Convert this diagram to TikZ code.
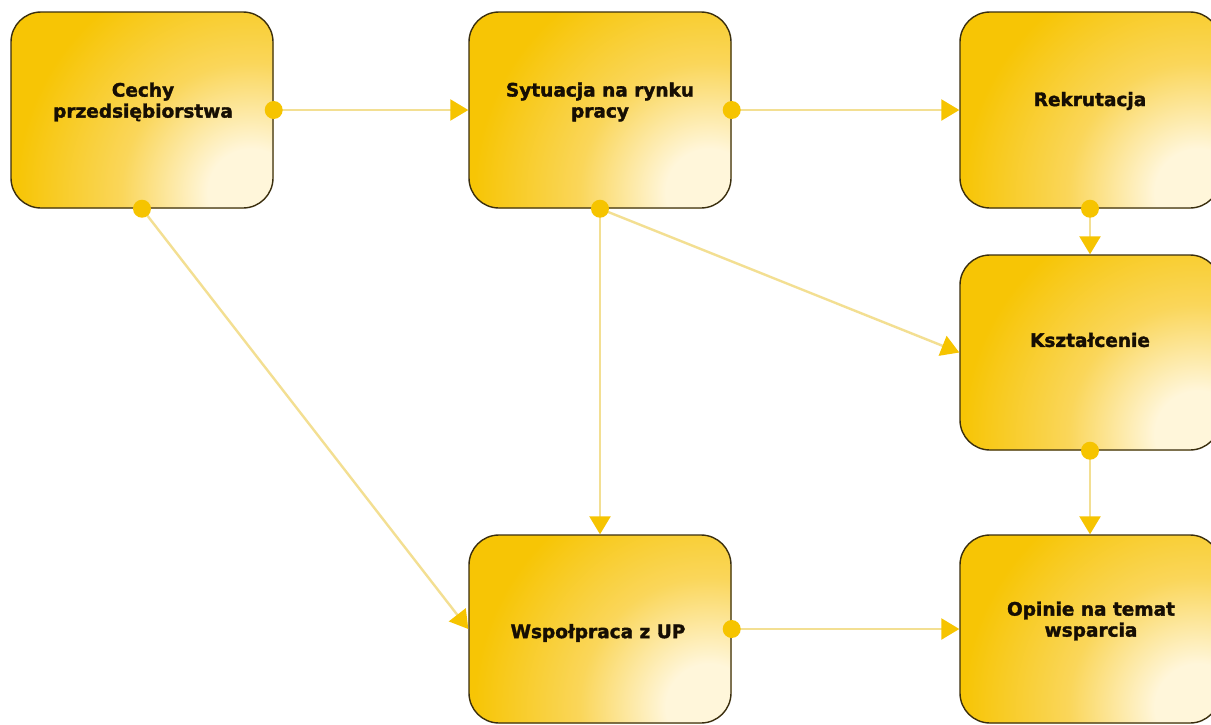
\documentclass[tikz,border=0pt]{standalone}
\usepackage{fontspec}
\setmainfont{DejaVu Sans}
\newfontfamily\lblfont[BoldFeatures={FakeBold=1.8}]{DejaVu Sans}
\usetikzlibrary{arrows.meta,calc}
\definecolor{gold}{HTML}{F7C505}
\definecolor{midgold}{HTML}{FAD65A}
\definecolor{cream}{HTML}{FFF6DA}
\definecolor{linecol}{HTML}{F3DF92}
\definecolor{dotcol}{HTML}{F6C400}
\definecolor{bordercol}{HTML}{3A2E0E}
\definecolor{txtcol}{HTML}{160E03}
% 25bp of this shading = radius of the shaded circle (600pt), so 1bp = 24pt
\pgfdeclareradialshading{boxglow}{\pgfpoint{0bp}{0bp}}{%
  color(0bp)=(cream); color(1.8bp)=(cream); color(5.4bp)=(midgold);
  color(9.8bp)=(gold); color(50bp)=(gold)}
\begin{document}
\begin{tikzpicture}[x=1pt,y=-1pt,
  box/.style={draw=bordercol, line width=1.4pt, rounded corners=30pt, fill=gold,
    inner sep=0pt,
    path picture={\fill[shading=boxglow]
      ($(path picture bounding box.south east)+(-22pt,16pt)$) circle (600pt);}},
  lbl/.style={font=\lblfont\bfseries\fontsize{18.5}{21}\selectfont, text=txtcol, align=center, inner sep=0pt},
  conn/.style={draw=linecol, line width=2.4pt,
    -{Triangle[length=18pt,width=21pt,fill=dotcol,color=dotcol]}},
  dot/.style={fill=dotcol}
]
\useasboundingbox (0,0) rectangle (1211,724);
\clip (0,0) rectangle (1211,724);
\fill[white] (0,0) rectangle (1211,724);

% boxes
\node[box, minimum width=262pt, minimum height=196pt] (cechy) at (142,110) {};
\node[box, minimum width=262pt, minimum height=196pt] (syt) at (600,110) {};
\node[box, minimum width=260pt, minimum height=196pt] (rek) at (1090,110) {};
\node[box, minimum width=260pt, minimum height=195pt] (ksz) at (1090,352.5) {};
\node[box, minimum width=262pt, minimum height=188pt] (wsp) at (600,629) {};
\node[box, minimum width=260pt, minimum height=188pt] (opi) at (1090,629) {};

% labels
\node[lbl] (cechyt) at (143,102) {Cechy\\przedsiębiorstwa};
\node[lbl] (sytt) at (600,102) {Sytuacja na rynku\\pracy};
\node[lbl] (rekt) at (1090,101) {Rekrutacja};
\node[lbl] (kszt) at (1090,340) {Kształcenie};
\node[lbl] (wspt) at (598,633) {Wspołpraca z UP};
\node[lbl] (opit) at (1091,621) {Opinie na temat\\wsparcia};

% connectors
\draw[conn] (cechy.east) -- (syt.west);
\draw[conn] (syt.east) -- (rek.west);
\draw[conn] (rek.south) -- (ksz.north);
\draw[conn] (syt.south) -- (ksz.west);
\draw[conn] (syt.south) -- (wsp.north);
\draw[conn] (cechy.south) -- (wsp.west);
\draw[conn] (wsp.east) -- (opi.west);
\draw[conn] (ksz.south) -- (opi.north);

% start dots
\fill[dot] (cechy.east) circle (9pt);
\fill[dot] (cechy.south) circle (9pt);
\fill[dot] (syt.east) circle (9pt);
\fill[dot] (syt.south) circle (9pt);
\fill[dot] (rek.south) circle (9pt);
\fill[dot] (ksz.south) circle (9pt);
\fill[dot] (wsp.east) circle (9pt);
\end{tikzpicture}
\end{document}
